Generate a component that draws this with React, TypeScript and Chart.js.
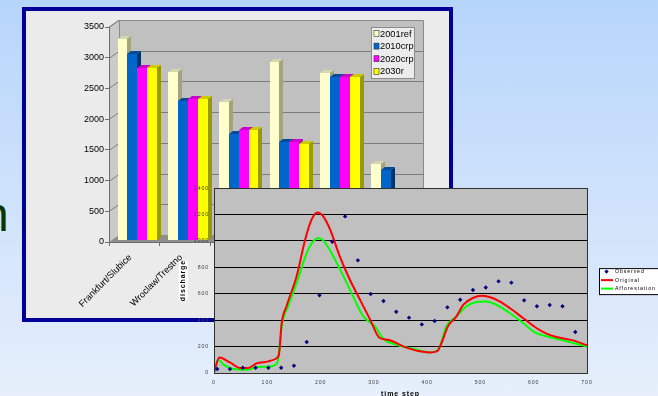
import React, { useEffect, useRef } from "react";
import { Chart, registerables } from "chart.js";

Chart.register(...registerables);

// ---------- Bar chart data ----------
const stations = ["Frankfurt/Slubice", "Wroclaw/Trestno", "Nysa", "Glogow", "Scinawa", "Raciborz"];
const scenarios = ["2001ref", "2010crp", "2020crp", "2030r"];
const ref2001 = [3270, 2735, 2250, 2900, 2720, 1240];
const crp2010 = [3030, 2265, 1725, 1595, 2655, 1140];
const crp2020 = [2800, 2295, 1790, 1595, 2655, 760];
const r2030 = [2800, 2295, 1785, 1565, 2655, 740];
const barMax = 3500;
const barStep = 500;

// ---------- Line chart data ----------
const seriesNames = ["Observed", "Original", "Afforestation"];
const obsSteps = [6, 30, 54, 78, 102, 126, 150, 174, 198, 222, 246, 270, 294, 318, 342, 366, 390, 414, 438, 462, 486, 510, 534, 558, 582, 606, 630, 654, 678];
const observed = [30, 30, 40, 40, 40, 40, 55, 235, 588, 994, 1186, 853, 598, 545, 464, 419, 368, 394, 497, 555, 628, 648, 694, 684, 550, 505, 515, 505, 310];
const originalSteps = [0, 10, 30, 49, 64, 80, 102, 116, 122, 127, 136, 155, 171, 183, 194, 205, 218, 236, 255, 274, 293, 311, 327, 355, 386, 405, 419, 427, 439, 455, 468, 486, 502, 517, 536, 555, 580, 605, 624, 643, 674, 700];
const original = [5, 118, 80, 38, 38, 73, 88, 108, 144, 378, 505, 732, 1009, 1161, 1216, 1186, 1085, 883, 706, 555, 404, 265, 252, 202, 164, 156, 166, 227, 353, 429, 517, 568, 585, 575, 542, 492, 416, 341, 298, 272, 247, 210];
const afforestSteps = [0, 8, 18, 36, 61, 80, 105, 119, 122, 127, 139, 155, 174, 186, 196, 205, 224, 243, 261, 280, 302, 318, 343, 380, 405, 421, 436, 455, 474, 492, 511, 530, 555, 580, 602, 624, 655, 700];
const afforestation = [5, 100, 63, 30, 25, 43, 50, 80, 151, 353, 505, 681, 908, 997, 1022, 1004, 883, 732, 580, 429, 353, 257, 214, 177, 156, 177, 353, 429, 505, 537, 542, 517, 454, 378, 308, 278, 247, 200];
const lineXMax = 700;
const lineXStep = 100;
const lineYMax = 1400;
const lineYStep = 200;

// ---------- styles ----------
const frontColors = ["#ffffcc", "#0066cc", "#ff00ff", "#ffff00"];
const topColors = ["#d6d6b0", "#004c99", "#cc00cc", "#cccc00"];
const sideColors = ["#a3a37d", "#003366", "#990099", "#999900"];
const lineColors = ["#000080", "#ff0000", "#00ff00"];
const BARFONT = "Arial, 'Liberation Sans', sans-serif";

const WALL_DX = 10;
const WALL_DY = -7;
const BAR_DX = 3;
const BAR_DY = -2;
const BAR_DEPTH_X = 4;
const BAR_DEPTH_Y = -3;

function poly(ctx: CanvasRenderingContext2D, pts: number[][], fill: string) {
  ctx.beginPath();
  ctx.moveTo(pts[0][0], pts[0][1]);
  for (let i = 1; i < pts.length; i++) ctx.lineTo(pts[i][0], pts[i][1]);
  ctx.closePath();
  ctx.fillStyle = fill;
  ctx.fill();
}

const bar3dPlugin = {
  id: "bar3d",
  beforeDatasetsDraw(chart: any) {
    const { ctx, chartArea: a } = chart;
    const y = chart.scales.y;
    ctx.save();
    poly(ctx, [[a.left, a.top], [a.left + WALL_DX, a.top + WALL_DY], [a.left + WALL_DX, a.bottom + WALL_DY], [a.left, a.bottom]], "#cacaca");
    ctx.fillStyle = "#c0c0c0";
    ctx.fillRect(a.left + WALL_DX, a.top + WALL_DY, a.right - a.left, a.bottom - a.top);
    poly(ctx, [[a.left, a.bottom], [a.left + WALL_DX, a.bottom + WALL_DY], [a.right + WALL_DX, a.bottom + WALL_DY], [a.right, a.bottom]], "#8e8e8e");
    ctx.strokeStyle = "#7c7c7c";
    ctx.lineWidth = 1;
    y.ticks.forEach((t: any) => {
      if (t.value === 0) return;
      const py = Math.round(y.getPixelForValue(t.value)) + 0.5;
      ctx.beginPath();
      ctx.moveTo(a.left, py);
      ctx.lineTo(a.left + WALL_DX, py + WALL_DY);
      ctx.lineTo(a.right + WALL_DX, py + WALL_DY);
      ctx.stroke();
    });
    ctx.strokeStyle = "#8a8a8a";
    ctx.beginPath();
    ctx.moveTo(a.left + WALL_DX + 0.5, a.bottom + WALL_DY);
    ctx.lineTo(a.left + WALL_DX + 0.5, a.top + WALL_DY + 0.5);
    ctx.lineTo(a.right + WALL_DX + 0.5, a.top + WALL_DY + 0.5);
    ctx.lineTo(a.right + WALL_DX + 0.5, a.bottom + WALL_DY);
    ctx.stroke();
    ctx.beginPath();
    ctx.moveTo(a.left, a.top);
    ctx.lineTo(a.left + WALL_DX, a.top + WALL_DY);
    ctx.stroke();
    ctx.strokeStyle = "#6e6e6e";
    ctx.beginPath();
    ctx.moveTo(a.left + 0.5, a.top);
    ctx.lineTo(a.left + 0.5, a.bottom + 0.5);
    ctx.lineTo(a.right, a.bottom + 0.5);
    ctx.lineTo(a.right + WALL_DX, a.bottom + WALL_DY + 0.5);
    ctx.stroke();
    ctx.restore();
  },
  beforeDatasetDraw() {
    return false;
  },
  afterDatasetsDraw(chart: any) {
    const ctx = chart.ctx;
    const items: { el: any; di: number }[] = [];
    chart.data.datasets.forEach((_ds: any, di: number) => {
      const meta = chart.getDatasetMeta(di);
      meta.data.forEach((el: any) => items.push({ el, di }));
    });
    items.sort((p, q) => p.el.x - q.el.x);
    ctx.save();
    ctx.translate(BAR_DX, BAR_DY);
    for (const { el, di } of items) {
      const l = Math.round(el.x - el.width / 2);
      const r = Math.round(el.x + el.width / 2);
      const t = Math.round(el.y);
      const b = Math.round(el.base);
      ctx.fillStyle = frontColors[di];
      ctx.fillRect(l, t, r - l, b - t);
      poly(ctx, [[l, t], [l + BAR_DEPTH_X, t + BAR_DEPTH_Y], [r + BAR_DEPTH_X, t + BAR_DEPTH_Y], [r, t]], topColors[di]);
      poly(ctx, [[r, t], [r + BAR_DEPTH_X, t + BAR_DEPTH_Y], [r + BAR_DEPTH_X, b + BAR_DEPTH_Y], [r, b]], sideColors[di]);
    }
    ctx.restore();
  },
};

const barLegendPlugin = {
  id: "barLegend",
  afterDraw(chart: any) {
    const { ctx, chartArea: a } = chart;
    const x0 = a.right - 41.5;
    const y0 = a.top + 0.5;
    const w = 43;
    const h = 51;
    ctx.save();
    ctx.fillStyle = "#ececec";
    ctx.fillRect(x0, y0, w, h);
    ctx.strokeStyle = "#8c8c8c";
    ctx.lineWidth = 1;
    ctx.strokeRect(x0, y0, w, h);
    ctx.font = `9.3px ${BARFONT}`;
    ctx.textBaseline = "middle";
    chart.data.datasets.forEach((ds: any, i: number) => {
      const cy = y0 + 6 + i * 12.6;
      ctx.fillStyle = frontColors[i];
      ctx.fillRect(x0 + 2.5, cy - 3, 5, 6);
      ctx.strokeStyle = "#333";
      ctx.lineWidth = 0.6;
      ctx.strokeRect(x0 + 2.5, cy - 3, 5, 6);
      ctx.fillStyle = "#000";
      ctx.fillText(ds.label, x0 + 8.5, cy + 0.5);
    });
    ctx.restore();
  },
};

const lineDecorPlugin = {
  id: "lineDecor",
  beforeDraw(chart: any) {
    const { ctx, chartArea: a } = chart;
    ctx.save();
    ctx.fillStyle = "#c0c0c0";
    ctx.fillRect(a.left, a.top, a.right - a.left, a.bottom - a.top);
    const ys = chart.scales.y;
    const text = ys.options.title.text;
    ctx.font = "bold 7px Arial";
    const w = ctx.measureText(text).width;
    const cx = ys.left + 9 + 4.2;
    const cy = (ys.top + ys.bottom) / 2;
    ctx.fillStyle = "#ffffff";
    ctx.fillRect(cx - 4.5, cy - w / 2 - 3, 9, w + 6);
    ctx.restore();
    (ctx as any).letterSpacing = "0.9px";
  },
  afterDraw(chart: any) {
    const { ctx, chartArea: a } = chart;
    ctx.save();
    ctx.strokeStyle = "#303030";
    ctx.lineWidth = 1;
    ctx.strokeRect(Math.round(a.left) + 0.5, Math.round(a.top) + 0.5, Math.round(a.right - a.left), Math.round(a.bottom - a.top));
    const lx = a.right + 12.5;
    const ly = a.top + 80.5;
    ctx.fillStyle = "#ffffff";
    ctx.fillRect(lx, ly, 80, 26);
    ctx.strokeStyle = "#000";
    ctx.strokeRect(lx, ly, 80, 26);
    ctx.font = "5.2px Arial";
    ctx.textBaseline = "middle";
    chart.data.datasets.forEach((ds: any, i: number) => {
      const cy = ly + 3 + i * 8.5;
      if (i === 0) {
        ctx.fillStyle = lineColors[0];
        ctx.beginPath();
        ctx.moveTo(lx + 7, cy - 2.2);
        ctx.lineTo(lx + 9.2, cy);
        ctx.lineTo(lx + 7, cy + 2.2);
        ctx.lineTo(lx + 4.8, cy);
        ctx.closePath();
        ctx.fill();
      } else {
        ctx.strokeStyle = lineColors[i];
        ctx.lineWidth = 2;
        ctx.beginPath();
        ctx.moveTo(lx + 1.5, cy);
        ctx.lineTo(lx + 13.5, cy);
        ctx.stroke();
      }
      ctx.fillStyle = "#000";
      ctx.fillText(ds.label, lx + 15.5, cy + 0.3);
    });
    ctx.restore();
    (ctx as any).letterSpacing = "0px";
  },
};

const plain = (v: any) => String(v);

export default function App() {
  const barRef = useRef<HTMLCanvasElement>(null);
  const lineRef = useRef<HTMLCanvasElement>(null);

  useEffect(() => {
    const barValues = [ref2001, crp2010, crp2020, r2030];
    const barChart = new Chart(barRef.current!, {
      type: "bar",
      data: {
        labels: stations,
        datasets: scenarios.map((name, i) => ({
          label: name,
          data: barValues[i],
          backgroundColor: frontColors[i],
          categoryPercentage: 0.78,
          barPercentage: 1,
          clip: false as any,
        })),
      },
      options: {
        responsive: false,
        animation: false,
        events: [],
        layout: { padding: { left: 0, right: 36, top: 16, bottom: 0 } },
        plugins: { legend: { display: false }, tooltip: { enabled: false } },
        scales: {
          x: {
            grid: { display: true, drawOnChartArea: false, drawTicks: true, tickLength: 4, color: "#707070", offset: true },
            border: { display: false },
            ticks: { autoSkip: false, minRotation: 45, maxRotation: 45, padding: 6, labelOffset: -4, color: "#000", font: { family: BARFONT, size: 9.3 } },
            afterFit: (s: any) => {
              s.height = 76;
            },
          },
          y: {
            min: 0,
            max: barMax,
            ticks: { stepSize: barStep, padding: 1, color: "#000", font: { family: BARFONT, size: 9 }, callback: plain },
            grid: { drawOnChartArea: false, drawTicks: true, tickLength: 4, color: "#707070" },
            border: { display: false },
            afterFit: (s: any) => {
              s.width = 83;
            },
          },
        },
      },
      plugins: [bar3dPlugin, barLegendPlugin],
    });

    const lineChart = new Chart(lineRef.current!, {
      type: "line",
      data: {
        datasets: [
          {
            label: seriesNames[0],
            data: obsSteps.map((x, i) => ({ x, y: observed[i] })),
            showLine: false,
            pointStyle: "rectRot",
            pointRadius: 2.2,
            pointBackgroundColor: lineColors[0],
            pointBorderColor: lineColors[0],
            pointBorderWidth: 0,
            borderColor: lineColors[0],
            backgroundColor: lineColors[0],
          },
          {
            label: seriesNames[1],
            data: originalSteps.map((x, i) => ({ x, y: original[i] })),
            borderColor: lineColors[1],
            backgroundColor: lineColors[1],
            borderWidth: 2,
            pointRadius: 0,
            cubicInterpolationMode: "monotone",
          },
          {
            label: seriesNames[2],
            data: afforestSteps.map((x, i) => ({ x, y: afforestation[i] })),
            borderColor: lineColors[2],
            backgroundColor: lineColors[2],
            borderWidth: 2,
            pointRadius: 0,
            cubicInterpolationMode: "monotone",
          },
        ],
      },
      options: {
        responsive: false,
        animation: false,
        events: [],
        layout: { padding: { left: 0, right: 71, top: 8, bottom: 0 } },
        plugins: { legend: { display: false }, tooltip: { enabled: false } },
        scales: {
          x: {
            type: "linear",
            min: 0,
            max: lineXMax,
            ticks: { stepSize: lineXStep, padding: -2, maxRotation: 0, color: "#404040", font: { family: "Arial", size: 5.2 }, callback: plain },
            grid: { display: false },
            border: { display: false },
            title: { display: true, text: "time step", color: "#000", font: { family: "Arial", size: 7, weight: "bold" }, padding: { top: 0, bottom: 2 } },
            afterFit: (s: any) => {
              s.height = 27;
            },
          },
          y: {
            min: 0,
            max: lineYMax,
            ticks: { stepSize: lineYStep, padding: 5, color: "#404040", font: { family: "Arial", size: 5.2 }, callback: plain },
            grid: { color: "#000000", lineWidth: 1, drawTicks: false },
            border: { display: false },
            title: { display: true, text: "discharge", color: "#000", font: { family: "Arial", size: 7, weight: "bold" }, padding: { top: 9, bottom: 0 } },
            afterFit: (s: any) => {
              s.width = 44;
            },
          },
        },
      },
      plugins: [lineDecorPlugin],
    });

    return () => {
      barChart.destroy();
      lineChart.destroy();
    };
  }, []);

  return (
    <div
      style={{
        position: "fixed",
        left: 0,
        top: 0,
        width: 658,
        height: 396,
        overflow: "hidden",
        background: "linear-gradient(180deg, #b6d5fb 0%, #cfe2fb 50%, #e6effb 100%)",
      }}
    >
      <div
        style={{
          position: "absolute",
          left: -18,
          top: 191,
          fontFamily: "Arial, 'Liberation Sans', sans-serif",
          fontSize: 48,
          lineHeight: "48px",
          color: "#063806",
        }}
      >
        n
      </div>
      <div
        style={{
          position: "absolute",
          left: 22,
          top: 7,
          width: 423,
          height: 307,
          border: "4px solid #000099",
          background: "#ebebeb",
        }}
      >
        <canvas ref={barRef} width={423} height={307} style={{ display: "block", width: 423, height: 307 }} />
      </div>
      <div style={{ position: "absolute", left: 170, top: 180, width: 488, height: 220 }}>
        <canvas ref={lineRef} width={488} height={220} style={{ display: "block", width: 488, height: 220 }} />
      </div>
    </div>
  );
}
